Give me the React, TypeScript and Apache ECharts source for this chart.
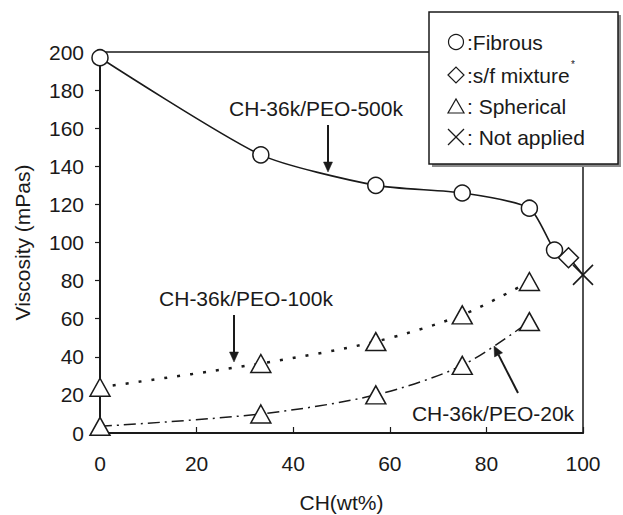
import React, { useEffect, useRef } from "react";
import * as echarts from "echarts";

// ---- data ----
const chPEO500k = [0, 33.3, 57.1, 75, 88.9, 94.1, 97, 100];
const viscPEO500k = [197, 146, 130, 126, 118, 96, 92, 83];
const morphPEO500k = ["circle", "circle", "circle", "circle", "circle", "circle", "diamond", "cross"];

const chPEO100k = [0, 33.3, 57.1, 75, 88.9];
const viscPEO100k = [24, 36.5, 48, 62, 79.5];

const chPEO20k = [0, 33.3, 57.1, 75, 88.9];
const viscPEO20k = [3.5, 10, 20, 35.5, 58.5];

const legendLabels = [":Fibrous", ":s/f mixture", ": Spherical", ": Not applied"];
const seriesNames = ["CH-36k/PEO-500k", "CH-36k/PEO-100k", "CH-36k/PEO-20k"];

const FONT = "'Liberation Sans', Arial, Helvetica, sans-serif";
const INK = "#1a1a1a";
const CROSS = "path://M0,0L10,10M10,0L0,10";

const symbolSize = (s: string) =>
  s === "circle" ? 16 : s === "diamond" ? [20, 20] : s === "cross" ? 20 : [20, 18];

function arrow(x1: number, y1: number, x2: number, y2: number, len = 10, half = 4.5) {
  const dx = x2 - x1;
  const dy = y2 - y1;
  const L = Math.hypot(dx, dy);
  const ux = dx / L;
  const uy = dy / L;
  const bx = x2 - ux * len;
  const by = y2 - uy * len;
  const px = -uy * half;
  const py = ux * half;
  return [
    { type: "line", shape: { x1, y1, x2: bx, y2: by }, style: { stroke: INK, lineWidth: 2 }, z: 20 },
    {
      type: "polygon",
      shape: { points: [[bx + px, by + py], [bx - px, by - py], [x2, y2]] },
      style: { fill: INK, stroke: INK, lineWidth: 0.5 },
      z: 20,
    },
  ];
}

export default function App() {
  const ref = useRef<HTMLDivElement>(null);
  useEffect(() => {
    if (!ref.current) return;
    const chart = echarts.init(ref.current, null, { renderer: "svg" });

    const markerStyle = { color: "#fff", borderColor: INK, borderWidth: 1.5 };

    const lx = 456;
    const ly = [42, 75, 106, 137];

    chart.setOption({
      animation: false,
      backgroundColor: "#fff",
      grid: {
        left: 100,
        right: 40,
        top: 52,
        bottom: 82,
        containLabel: false,
        outerBoundsMode: "none",
        show: true,
        borderColor: INK,
        borderWidth: 1.5,
        backgroundColor: "transparent",
      },
      xAxis: {
        type: "value",
        min: 0,
        max: 100,
        interval: 20,
        name: "CH(wt%)",
        nameLocation: "middle",
        nameGap: 59,
        nameTextStyle: { fontFamily: FONT, fontSize: 21, color: INK },
        axisLine: { lineStyle: { color: INK, width: 2 } },
        axisTick: { inside: true, length: 6, lineStyle: { color: INK, width: 1.2 } },
        axisLabel: { fontFamily: FONT, fontSize: 21, color: INK, margin: 20 },
        splitLine: { show: false },
      },
      yAxis: {
        type: "value",
        min: 0,
        max: 200,
        interval: 20,
        name: "Viscosity (mPas)",
        nameLocation: "middle",
        nameGap: 67,
        nameTextStyle: { fontFamily: FONT, fontSize: 21, color: INK },
        axisLine: { lineStyle: { color: INK, width: 2 } },
        axisTick: { inside: false, length: 5, lineStyle: { color: INK, width: 1.2 } },
        axisLabel: { fontFamily: FONT, fontSize: 21, color: INK, margin: 16 },
        splitLine: { show: false },
      },
      series: [
        {
          name: seriesNames[0],
          type: "line",
          smooth: 0.22,
          lineStyle: { color: INK, width: 1.6, type: "solid" },
          itemStyle: markerStyle,
          z: 5,
          data: chPEO500k.map((x, i) => ({
            value: [x, viscPEO500k[i]],
            symbol: morphPEO500k[i] === "cross" ? CROSS : morphPEO500k[i],
            symbolSize: symbolSize(morphPEO500k[i]),
            itemStyle:
              morphPEO500k[i] === "cross"
                ? { color: "none", borderColor: INK, borderWidth: 1.6 }
                : markerStyle,
          })),
        },
        {
          name: seriesNames[1],
          type: "line",
          smooth: 0.3,
          symbol: "triangle",
          symbolSize: [20, 18],
          showAllSymbol: true,
          lineStyle: { color: INK, width: 2.5, type: [3, 10] },
          itemStyle: markerStyle,
          z: 4,
          data: chPEO100k.map((x, i) => [x, viscPEO100k[i]]),
        },
        {
          name: seriesNames[2],
          type: "line",
          smooth: 0.3,
          symbol: "triangle",
          symbolSize: [20, 18],
          showAllSymbol: true,
          lineStyle: { color: INK, width: 1.5, type: [12, 5, 2, 5] },
          itemStyle: markerStyle,
          z: 4,
          data: chPEO20k.map((x, i) => [x, viscPEO20k[i]]),
        },
      ],
      graphic: [
        // series annotations
        {
          type: "text",
          x: 316,
          y: 108,
          z: 20,
          style: { text: seriesNames[0], font: `21px ${FONT}`, fill: INK, align: "center", verticalAlign: "middle" },
        },
        {
          type: "text",
          x: 246,
          y: 298,
          z: 20,
          style: { text: seriesNames[1], font: `21px ${FONT}`, fill: INK, align: "center", verticalAlign: "middle" },
        },
        {
          type: "text",
          x: 493,
          y: 413,
          z: 20,
          style: { text: seriesNames[2], font: `21px ${FONT}`, fill: INK, align: "center", verticalAlign: "middle" },
        },
        ...arrow(328, 125, 328, 172),
        ...arrow(234, 315, 234, 362),
        ...arrow(518, 393, 494, 346),
        // legend box with shadow
        {
          type: "rect",
          shape: { x: 432, y: 15, width: 189, height: 152 },
          style: { fill: "#8a8a8a" },
          z: 30,
        },
        {
          type: "rect",
          shape: { x: 429, y: 12, width: 189, height: 152 },
          style: { fill: "#fff", stroke: INK, lineWidth: 1.5 },
          z: 31,
        },
        {
          type: "circle",
          shape: { cx: lx, cy: ly[0], r: 7.5 },
          style: { fill: "none", stroke: INK, lineWidth: 1.2 },
          z: 32,
        },
        {
          type: "polygon",
          shape: { points: [[lx - 8, ly[1]], [lx, ly[1] - 8], [lx + 8, ly[1]], [lx, ly[1] + 8]] },
          style: { fill: "none", stroke: INK, lineWidth: 1.2 },
          z: 32,
        },
        {
          type: "polygon",
          shape: { points: [[lx - 8, ly[2] + 7], [lx + 8, ly[2] + 7], [lx, ly[2] - 7]] },
          style: { fill: "none", stroke: INK, lineWidth: 1.2 },
          z: 32,
        },
        {
          type: "line",
          shape: { x1: lx - 8, y1: ly[3] - 8, x2: lx + 8, y2: ly[3] + 8 },
          style: { stroke: INK, lineWidth: 1.2 },
          z: 32,
        },
        {
          type: "line",
          shape: { x1: lx - 8, y1: ly[3] + 8, x2: lx + 8, y2: ly[3] - 8 },
          style: { stroke: INK, lineWidth: 1.2 },
          z: 32,
        },
        ...legendLabels.map((t, i) => ({
          type: "text",
          x: 467,
          y: ly[i],
          z: 32,
          style: { text: t, font: `21px ${FONT}`, fill: INK, align: "left", verticalAlign: "middle" },
        })),
        {
          type: "text",
          x: 571,
          y: 64,
          z: 32,
          style: { text: "*", font: `10px ${FONT}`, fill: INK, align: "left", verticalAlign: "middle" },
        },
      ],
    });
    return () => chart.dispose();
  }, []);
  return (
    <div
      ref={ref}
      style={{ position: "fixed", left: 0, top: 0, width: 623, height: 515, background: "#fff" }}
    />
  );
}
